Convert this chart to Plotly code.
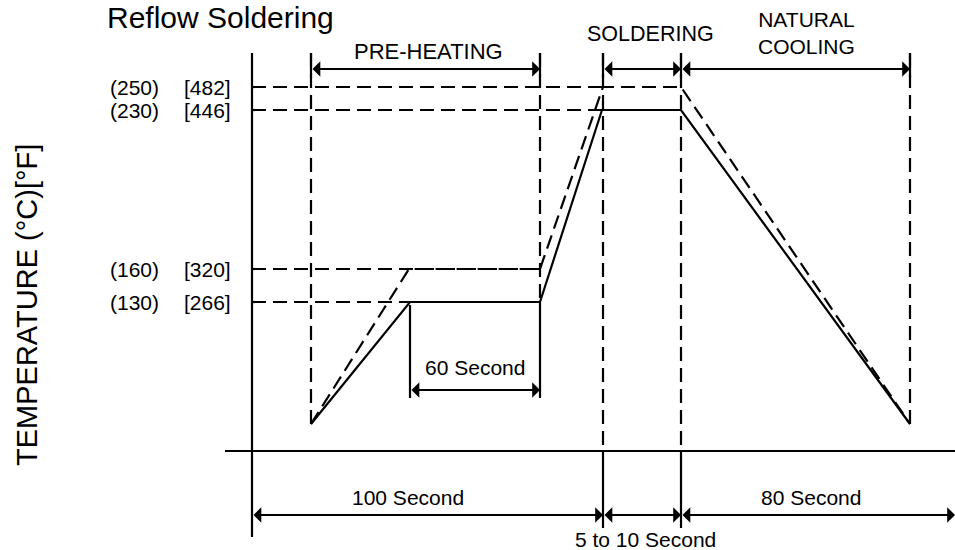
import plotly.graph_objects as go

# ---- values (diagram units, y grows downward) ----
temps_c = [250, 230, 160, 130]
temps_f = [482, 446, 320, 266]
level_y = [87, 110, 269, 302]            # schematic heights of the four temperature levels

# stage boundaries along the schematic time axis
t_origin, t_start, t_hold, t_pre_end, t_sol_start, t_sol_end, t_cool_end, t_right = \
    252, 311, 410, 540, 603, 681, 910, 955
y_base, y_axis = 424, 451                # start/end temperature level, time-axis level

# profiles: solid = minimum (130 / 230), dashed = maximum (160 / 250)
solid_t = [t_start, t_hold, t_pre_end, 602, t_sol_end, t_cool_end]
solid_y = [y_base, level_y[3], level_y[3], level_y[1], level_y[1], y_base]
dash_t = [t_start, 409, t_pre_end, t_sol_start, t_sol_end, t_cool_end]
dash_y = [y_base, level_y[2], level_y[2], level_y[0], level_y[0], y_base]

stage_labels = ["PRE-HEATING", "SOLDERING", "NATURAL<br>COOLING"]
time_labels = ["60 Second", "100 Second", "5 to 10 Second", "80 Second"]

FONT = "Liberation Sans, Arial, Helvetica, sans-serif"
DASH = "14px,7px"
LW = 2.2
BLACK = "#000000"

fig = go.Figure()


def seg(x0, y0, x1, y1, dash="solid", w=LW):
    fig.add_trace(go.Scatter(x=[x0, x1], y=[y0, y1], mode="lines",
                             line=dict(color=BLACK, width=w, dash=dash),
                             hoverinfo="skip", showlegend=False))


# axes of the diagram
seg(t_origin, 53, t_origin, 537)
seg(225, y_axis, t_right, y_axis)

# dashed guide verticals
for xv, ye in [(t_start, y_base), (t_pre_end, level_y[3]), (t_sol_start, y_axis),
               (t_sol_end, y_axis), (t_cool_end, y_base)]:
    seg(xv, 53, xv, ye, DASH)
    seg(xv, 53, xv, 78)          # solid tick through the top dimension arrow

# solid extension lines below the time axis
seg(t_sol_start, y_axis, t_sol_start, 528)
seg(t_sol_end, y_axis, t_sol_end, 528)

# dashed guide horizontals from the temperature axis
seg(t_origin, level_y[0], t_sol_start, level_y[0], DASH)
seg(t_origin, level_y[1], t_sol_start, level_y[1], DASH)
seg(t_origin, level_y[2], t_pre_end, level_y[2], DASH)
seg(t_origin, level_y[3], t_hold, level_y[3], DASH)

# 60 second extension lines
seg(t_hold, 305, t_hold, 398)
seg(t_pre_end, level_y[3], t_pre_end, 398)

# temperature profiles
fig.add_trace(go.Scatter(x=dash_t, y=dash_y, mode="lines",
                         line=dict(color=BLACK, width=LW, dash=DASH),
                         hoverinfo="skip", showlegend=False))
fig.add_trace(go.Scatter(x=solid_t, y=solid_y, mode="lines",
                         line=dict(color=BLACK, width=LW),
                         hoverinfo="skip", showlegend=False))

annotations = []


def dim_arrow(x0, x1, y):
    annotations.append(dict(x=x1, y=y, ax=x0, ay=y, xref="x", yref="y",
                            axref="x", ayref="y", text="", showarrow=True,
                            arrowhead=1, arrowside="end+start", arrowsize=1.3,
                            arrowwidth=2, arrowcolor=BLACK, standoff=0,
                            startstandoff=0))


dim_arrow(t_start, t_pre_end, 69)
dim_arrow(t_sol_start, t_sol_end, 69)
dim_arrow(t_sol_end, t_cool_end, 69)
dim_arrow(t_hold, t_pre_end, 390)
dim_arrow(t_origin, t_sol_start, 515)
dim_arrow(t_sol_start, t_sol_end, 515)
dim_arrow(t_sol_end, t_right, 515)


def txt(x, y, s, size, **kw):
    d = dict(x=x, y=y, xref="x", yref="y", text=s, showarrow=False,
             font=dict(family=FONT, size=size, color=BLACK),
             xanchor="center", yanchor="middle")
    d.update(kw)
    annotations.append(d)


txt(220, 0, "Reflow Soldering", 30, yanchor="top", borderpad=0)
txt(27, 305, "TEMPERATURE (°C)[°F]", 29, textangle=-90)

for c, f, ly in zip(temps_c, temps_f, level_y):
    txt(134, ly, f"({c})", 21)
    txt(207, ly, f"[{f}]", 21)

txt(428, 51, stage_labels[0], 22)
txt(650, 34, stage_labels[1], 21.5)
txt(806, 33, stage_labels[2], 21)

txt(475, 367, time_labels[0], 21)
txt(408, 497, time_labels[1], 21)
txt(645, 539, time_labels[2], 21)
txt(811, 497, time_labels[3], 21)

fig.update_layout(
    width=955, height=550,
    margin=dict(l=0, r=0, t=0, b=0),
    paper_bgcolor="white", plot_bgcolor="white",
    xaxis=dict(range=[0, 955], visible=False, fixedrange=True),
    yaxis=dict(range=[550, 0], visible=False, fixedrange=True),
    annotations=annotations,
    showlegend=False,
)

fig.write_html("out.html", config={"displayModeBar": False},
               post_script="document.body.style.margin='0';document.body.style.overflow='hidden';")
